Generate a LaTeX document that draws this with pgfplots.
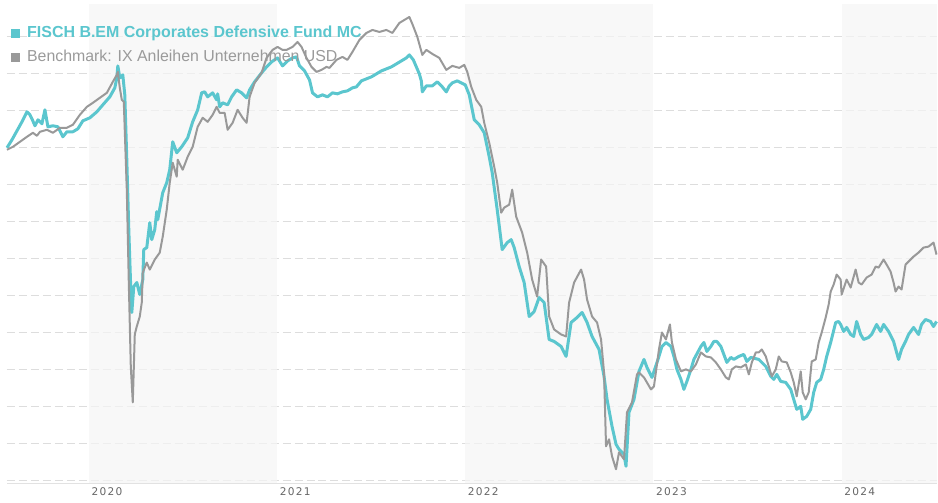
\documentclass[border=0pt]{standalone}
\usepackage{pgfplots}
\pgfplotsset{compat=1.18}
\usepackage{fontspec}
\setmainfont{Liberation Sans}
\newfontfamily\tickfont[LetterSpace=12]{DejaVu Sans}
\definecolor{fund}{HTML}{5BC6CE}
\definecolor{bench}{HTML}{999999}
\definecolor{benchtext}{HTML}{9A9A9A}
\definecolor{band}{HTML}{F5F5F5}
\definecolor{gridc}{HTML}{DDDDDD}
\definecolor{axisc}{HTML}{E2E2E2}
\definecolor{labc}{HTML}{666666}
\begin{document}
\begin{tikzpicture}
\begin{axis}[
  at={(0,0)}, anchor=south west,
  scale only axis, width=931pt, height=480pt,
  xmin=7, xmax=938, ymin=-3, ymax=477,
  clip=false,
  axis line style={draw=none},
  major tick length=0pt,
  xtick={89,277.5,466,654.5,843},
  xticklabels={2020,2021,2022,2023,2024},
  xticklabel style={font=\tickfont\fontsize{10.6}{12}\selectfont, text=labc, anchor=north west, inner sep=0pt, xshift=2.5pt, yshift=-4pt},
  ytick={0,37,74,111,148,185,222,259,296,333,370,407,444},
  yticklabels={},
  ymajorgrids,
  grid style={draw=gridc, line width=1pt, dash pattern=on 8pt off 4pt},
]
% shaded year bands
\addplot[fill=band, draw=none, fill opacity=0.75] coordinates {(89,-3) (277.5,-3) (277.5,477) (89,477)} -- cycle;
\addplot[fill=band, draw=none, fill opacity=0.75] coordinates {(466,-3) (654.5,-3) (654.5,477) (466,477)} -- cycle;
\addplot[fill=band, draw=none, fill opacity=0.75] coordinates {(843,-3) (938,-3) (938,477) (843,477)} -- cycle;
% bottom axis line
\addplot[axisc, line width=1.2pt] coordinates {(7,-3) (938,-3)};
% Fund
\addplot[fund, line width=3pt, line join=round] coordinates {
(7,333) (12,341) (17,350) (22,359) (27,369) (30,366) (32,362) (35,355) (38,361) (42,357)
(45,371) (48,354) (53,355) (58,354) (63,344) (67,349) (73,349) (78,352) (83,360) (90,363)
(97,369) (103,376) (110,384) (115,393) (117,403) (118,415) (120,403) (123,406) (125,386) (127,321)
(129,251) (131,191) (132,168) (134,194) (137,198) (140,186) (143,201) (144,231) (147,233) (150,258)
(152,241) (155,251) (157,269) (158,261) (163,288) (167,298) (170,311) (173,339) (177,328) (182,334)
(188,343) (193,359) (198,371) (202,388) (205,389) (208,384) (213,388) (217,381) (218,387) (220,374)
(223,378) (228,376) (232,384) (237,391) (242,388) (247,383) (250,391) (255,399) (262,408) (267,414)
(272,419) (278,423) (283,415) (288,420) (293,423) (297,424)
(300,415) (305,410) (310,401) (313,388) (318,384) (323,386) (328,384) (333,388) (338,387) (343,389)
(348,390) (353,393) (357,394) (362,400) (367,402) (372,404) (377,407) (382,410) (387,412) (392,414)
(397,417) (402,420) (407,423) (410,426) (414,421) (417,414) (420,407) (422,400) (423,389) (427,395)
(433,395) (438,399) (443,394) (447,389) (450,395) (453,398) (458,400) (462,398) (466,396) (470,386)
(475,361) (480,356) (485,348) (490,324) (493,308) (498,271) (503,231) (508,238) (512,241) (515,233)
(520,214) (525,198) (530,164) (535,169) (540,183) (545,178) (550,141) (555,139) (562,134) (567,124)
(572,158) (578,163) (583,168) (588,158) (593,144) (600,131) (605,104) (608,81) (613,54) (617,36)
(620,31) (625,26) (627,14) (630,68) (635,81) (640,109) (645,121) (648,113) (653,103) (660,124)
(663,134) (667,138) (672,134) (675,124) (678,111) (682,101) (685,91) (688,99) (692,111) (695,121)
(702,134) (705,138) (708,129) (712,134) (715,139) (718,139) (722,134) (725,126) (728,118) (732,123)
(735,121) (740,124) (745,126) (748,119) (752,123) (760,121) (763,118) (767,114) (772,104) (775,101)
(778,106) (782,99) (787,98) (792,91) (795,81) (798,71) (802,74) (804,61) (808,64) (812,71)
(815,88) (818,98) (822,101) (825,111) (828,124) (832,138) (837,158) (840,159) (842,156) (845,149)
(848,153) (852,146) (855,144) (858,159) (862,146) (865,141) (870,143) (873,146) (878,156) (882,149)
(885,156) (890,149) (895,139) (900,121) (903,131) (907,139) (910,146) (915,153) (920,146) (923,156)
(927,161) (932,159) (935,154) (938,159)
};
% Benchmark
\addplot[bench, line width=2pt, line join=round] coordinates {
(7,331) (13,334) (20,339) (27,344) (33,348) (37,345) (40,349) (47,351) (53,348) (60,353)
(67,353) (73,356) (80,366) (87,374) (93,378) (100,383) (107,388) (113,399) (117,406) (118,409)
(120,393) (122,381) (124,379) (127,291) (129,198) (131,114) (133,78) (135,146) (137,154) (140,164)
(142,178) (143,208) (147,218) (150,211) (155,221) (160,228) (163,244) (167,271) (170,298) (173,318)
(177,304) (178,321) (183,311) (188,324) (193,334) (198,354) (203,363) (208,359) (213,366) (217,374)
(220,368) (225,368) (228,351) (233,358) (238,371) (243,363) (247,358) (250,384) (255,398) (262,408)
(267,423) (273,431)
(278,434) (283,431) (287,431) (293,434) (298,439) (302,434) (307,423) (312,414) (317,409) (322,411)
(327,414) (330,413) (337,421) (343,424) (348,421) (353,429) (360,441) (367,448) (373,451) (380,449)
(387,451) (393,448) (400,458) (405,461) (410,464) (413,457) (418,444) (423,426) (427,431) (433,427)
(440,423) (447,411) (453,415) (460,413) (465,416) (468,409) (472,394) (477,381) (482,374) (485,358)
(490,338) (495,314) (498,298) (502,268) (505,273) (510,276) (513,291) (517,264) (523,248) (528,228)
(533,201) (538,184) (542,221) (547,214) (550,164) (555,151) (562,146) (567,144) (570,178) (575,198)
(582,211) (585,201) (588,181) (593,164) (598,158) (602,141) (605,108) (607,34) (610,41) (613,24)
(617,11) (620,28) (625,21) (628,68) (633,78) (638,106) (640,108) (645,103) (652,91) (655,94)
(660,131) (663,148) (667,141) (671,156) (673,138) (677,121) (682,109) (687,111) (692,109) (697,116)
(702,128) (707,124) (712,123) (717,118) (722,111) (727,103) (730,101) (733,111) (737,114) (742,113)
(747,116) (750,106) (753,118) (757,128) (760,128) (763,131) (767,124) (770,114) (773,104) (777,111)
(780,124) (783,119) (788,118) (792,108) (795,98) (798,84) (802,109) (804,88) (807,81) (810,88)
(813,119) (817,121) (820,138) (823,148) (827,163) (830,176) (832,189) (835,196) (838,206) (842,201)
(843,186) (848,201) (852,193) (857,211) (860,198) (863,196) (868,203) (873,206) (877,214) (880,213)
(885,221) (888,216) (892,209) (895,198) (897,189) (900,194) (903,191) (907,216) (910,219) (915,224)
(920,228) (925,233) (930,234) (935,238) (938,226)
};
% legend
\node[anchor=base west, inner sep=0pt, font=\fontsize{16}{19}\selectfont] at (axis cs:11,443.3)
  {\textcolor{fund}{\rule{9pt}{9pt}}\hspace{7pt}\textcolor{fund}{\bfseries FISCH B.EM Corporates Defensive Fund MC}};
\node[anchor=base west, inner sep=0pt, font=\fontsize{15.9}{19}\selectfont] at (axis cs:11,419.3)
  {\textcolor{bench}{\rule{9pt}{9pt}}\hspace{7pt}\textcolor{benchtext}{Benchmark: IX Anleihen Unternehmen USD}};
\end{axis}
\useasboundingbox (-7pt,-19pt) rectangle (931pt,484pt);
\end{tikzpicture}
\end{document}
